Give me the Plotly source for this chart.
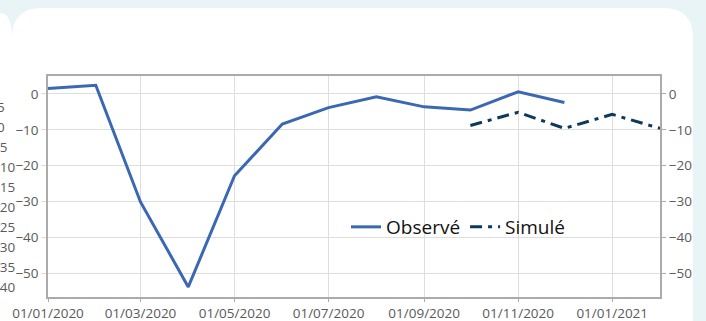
import plotly.graph_objects as go

# Observed series (monthly)
obs_dates = ["2020-01-01", "2020-02-01", "2020-03-01", "2020-04-01", "2020-05-01", "2020-06-01",
             "2020-07-01", "2020-08-01", "2020-09-01", "2020-10-01", "2020-11-01", "2020-12-01"]
obs_values = [1.5, 2.4, -30.1, -53.8, -22.8, -8.4, -3.8, -0.8, -3.6, -4.5, 0.6, -2.4]

# Simulated series
sim_dates = ["2020-10-01", "2020-11-01", "2020-12-01", "2021-01-01", "2021-02-01"]
sim_values = [-8.8, -5.1, -9.6, -5.7, -9.6]

# clipped tick labels of the neighbouring chart on the left edge
side_labels = ["5", "0", "−5", "−10", "−15", "−20", "−25", "−30", "−35", "−40"]
side_label_y = [107, 127, 147, 167, 187, 207, 227, 247, 267, 287]

W, H = 706, 321
L, R, T, B = 48, 660, 76, 297
FONT = "Open Sans"
GREY = "#5a5a5a"


def px(x):
    return (x - L) / (R - L)


def py(y):
    return (B - y) / (B - T)


def path(points):
    # points: list of (cmd, [(x, y), ...]) in pixels
    out = ""
    for cmd, pts in points:
        out += cmd + " ".join(f"{px(x):.5f},{py(y):.5f}" for x, y in pts) + " "
    return out + "Z"


fig = go.Figure()

fig.add_trace(go.Scatter(
    x=obs_dates, y=obs_values, name="Observé", mode="lines",
    line=dict(color="#3b68b2", width=3),
))
fig.add_trace(go.Scatter(
    x=sim_dates, y=sim_values, name="Simulé", mode="lines", yaxis="y2",
    line=dict(color="#0d3a5c", width=3, dash="12px,6px,4px,6px"),
))

yrange = [-56.6, 5]

# page background cards
left_card = path([("M", [(-30, 13)]), ("L", [(0, 13)]), ("Q", [(12, 13), (12, 38)]),
                  ("L", [(12, 400)]), ("L", [(-30, 400)])])
main_card = path([("M", [(12, 38)]), ("Q", [(12, 8), (42, 8)]), ("L", [(663, 8)]),
                  ("Q", [(693, 8), (693, 38)]), ("L", [(693, 400)]), ("L", [(12, 400)])])
shapes = [
    dict(type="path", path=left_card, xref="paper", yref="paper", layer="below",
         fillcolor="white", line=dict(width=0)),
    dict(type="path", path=main_card, xref="paper", yref="paper", layer="below",
         fillcolor="white", line=dict(width=0)),
]

annotations = []
for txt, yc in zip(side_labels, side_label_y):
    x0 = -4 if not txt.startswith("−") else -9
    annotations.append(dict(
        text=txt, xref="paper", yref="paper", x=px(x0), y=py(yc),
        xanchor="left", yanchor="middle", showarrow=False, borderpad=0,
        font=dict(family=FONT, size=13.5, color=GREY),
    ))

fig.update_layout(
    width=W, height=H,
    margin=dict(l=L, r=W - R, t=T, b=H - B, autoexpand=False),
    paper_bgcolor="#e9f4f6",
    plot_bgcolor="rgba(0,0,0,0)",
    font=dict(family=FONT, size=13.5, color=GREY),
    shapes=shapes,
    annotations=annotations,
    showlegend=True,
    legend=dict(
        orientation="h", x=px(346), y=py(227), xanchor="left", yanchor="middle",
        bgcolor="rgba(0,0,0,0)", font=dict(family=FONT, size=19, color="#111111"),
        itemwidth=30,
    ),
    xaxis=dict(
        range=["2020-01-01", "2021-02-01"], type="date", automargin=False,
        tick0="2020-01-01", dtick="M2", tickformat="%d/%m/%Y",
        showgrid=True, gridcolor="#dedede", gridwidth=1,
        showline=True, linecolor="#ababab", linewidth=1.5, mirror=True,
        ticks="outside", ticklen=3, tickcolor="#ababab",
        ticklabelstandoff=0,
        zeroline=False, tickfont=dict(size=13.5),
    ),
    yaxis=dict(
        range=yrange, dtick=10, automargin=False,
        showgrid=True, gridcolor="#dedede", gridwidth=1,
        showline=True, linecolor="#ababab", linewidth=1.5, mirror=True,
        ticks="outside", ticklen=5, tickcolor="#dedede",
        zeroline=False,
    ),
    yaxis2=dict(
        range=yrange, dtick=10, overlaying="y", side="right", showgrid=False,
        automargin=False, ticks="outside", ticklen=5, tickcolor="#ababab",
        zeroline=False,
    ),
)

# remove the default body margin so the figure sits at the page origin
fig.write_html(
    "out.html",
    config={"displayModeBar": False},
    post_script="document.body.style.margin='0';document.body.style.overflow='hidden';",
)
